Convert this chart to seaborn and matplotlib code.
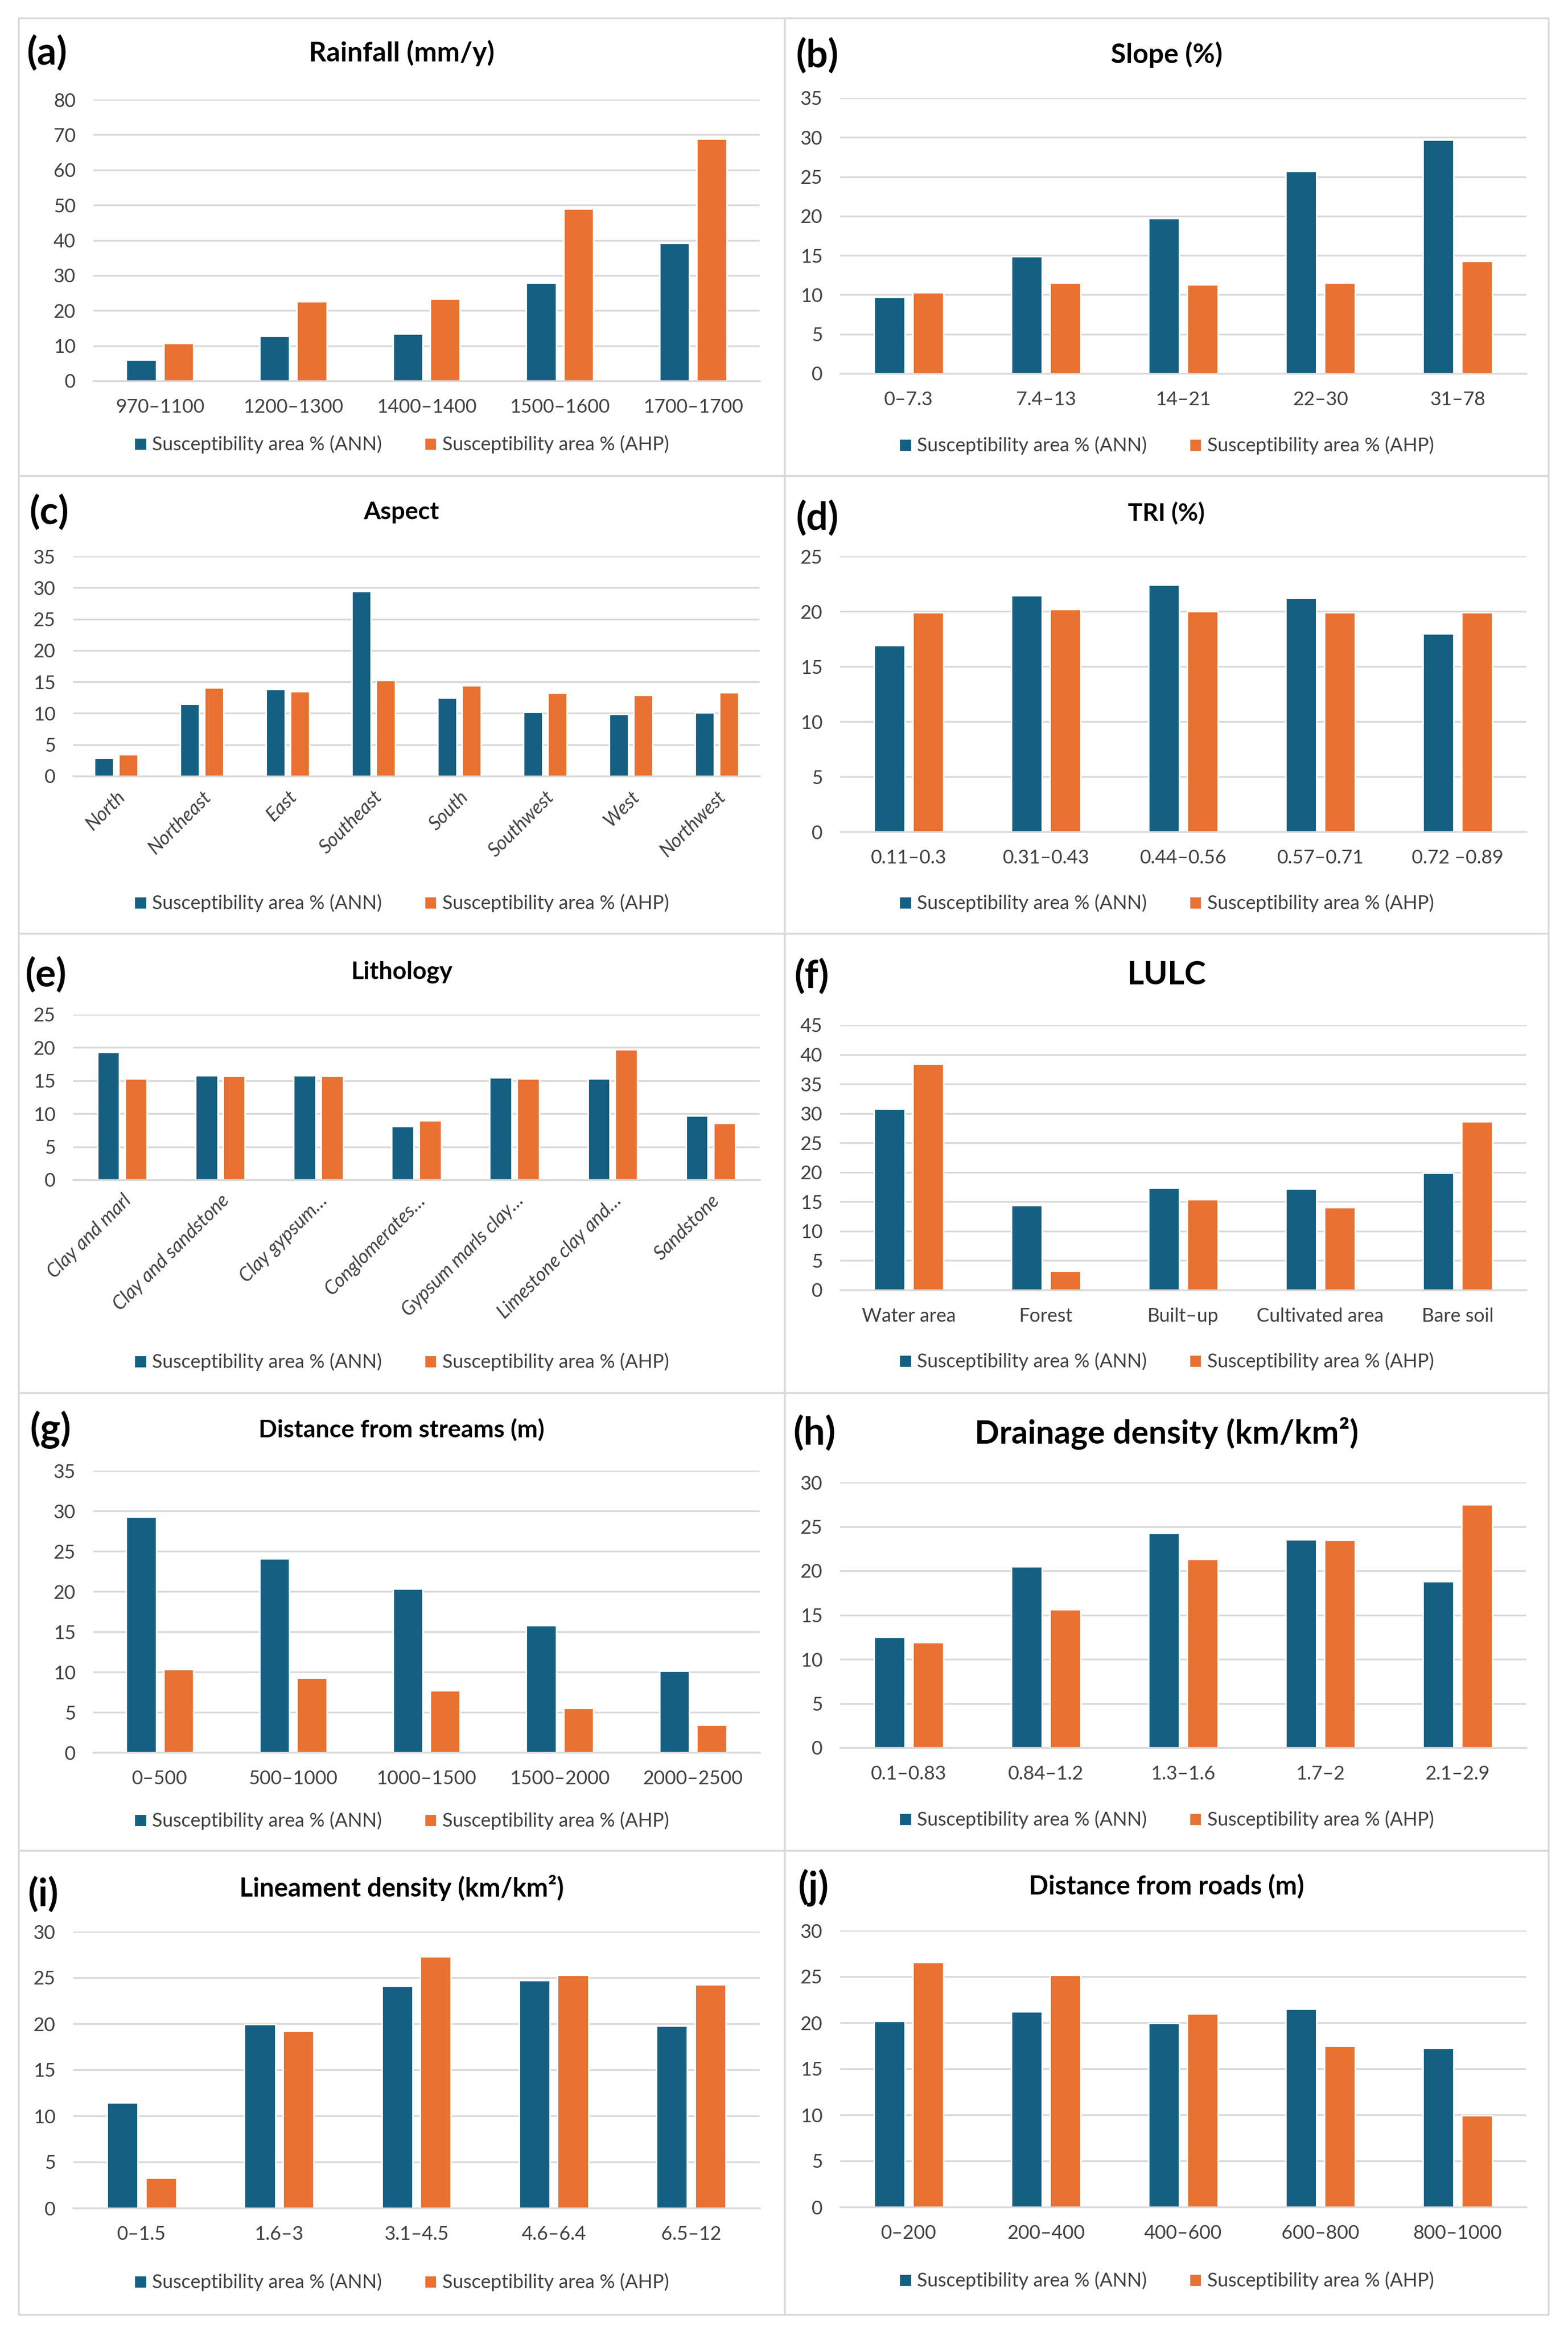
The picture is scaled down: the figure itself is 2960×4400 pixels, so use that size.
import matplotlib

matplotlib.use("Agg")
import matplotlib.pyplot as plt
import pandas as pd
import seaborn as sns
from matplotlib.patches import Rectangle

W, H, DPI = 2960, 4400, 200
BLUE, ORANGE = "#156082", "#E97132"
GRID = "#d9d9d9"
TXT = "#404040"
ANN = "Susceptibility area % (ANN)"
AHP = "Susceptibility area % (AHP)"

# ---- data ----
rain_cats = ["970–1100", "1200–1300", "1400–1400", "1500–1600", "1700–1700"]
rain_ann = [6.1, 12.8, 13.4, 27.8, 39.1]
rain_ahp = [10.7, 22.6, 23.3, 48.9, 68.9]

slope_cats = ["0–7.3", "7.4–13", "14–21", "22–30", "31–78"]
slope_ann = [9.7, 14.9, 19.7, 25.7, 29.7]
slope_ahp = [10.3, 11.5, 11.3, 11.5, 14.3]

aspect_cats = ["North", "Northeast", "East", "Southeast", "South", "Southwest", "West", "Northwest"]
aspect_ann = [2.85, 11.5, 13.8, 29.4, 12.5, 10.2, 9.9, 10.1]
aspect_ahp = [3.5, 14.1, 13.5, 15.3, 14.4, 13.2, 12.9, 13.3]

tri_cats = ["0.11–0.3", "0.31–0.43", "0.44–0.56", "0.57–0.71", "0.72 –0.89"]
tri_ann = [16.9, 21.45, 22.4, 21.2, 18.0]
tri_ahp = [19.9, 20.2, 20.0, 19.9, 19.9]

litho_cats = ["Clay and marl", "Clay and sandstone", "Clay gypsum…", "Conglomerates…",
              "Gypsum marls clay…", "Limestone clay and…", "Sandstone"]
litho_ann = [19.3, 15.8, 15.8, 8.1, 15.5, 15.3, 9.7]
litho_ahp = [15.3, 15.7, 15.7, 9.0, 15.3, 19.75, 8.6]

lulc_cats = ["Water area", "Forest", "Built–up", "Cultivated area", "Bare soil"]
lulc_ann = [30.8, 14.4, 17.4, 17.2, 19.9]
lulc_ahp = [38.4, 3.2, 15.4, 14.0, 28.6]

stream_cats = ["0–500", "500–1000", "1000–1500", "1500–2000", "2000–2500"]
stream_ann = [29.3, 24.05, 20.3, 15.8, 10.1]
stream_ahp = [10.3, 9.3, 7.7, 5.5, 3.4]

drain_cats = ["0.1–0.83", "0.84–1.2", "1.3–1.6", "1.7–2", "2.1–2.9"]
drain_ann = [12.5, 20.5, 24.25, 23.55, 18.8]
drain_ahp = [11.9, 15.6, 21.3, 23.5, 27.5]

linea_cats = ["0–1.5", "1.6–3", "3.1–4.5", "4.6–6.4", "6.5–12"]
linea_ann = [11.45, 19.95, 24.1, 24.7, 19.75]
linea_ahp = [3.3, 19.2, 27.3, 25.3, 24.25]

road_cats = ["0–200", "200–400", "400–600", "600–800", "800–1000"]
road_ann = [20.15, 21.2, 19.95, 21.5, 17.25]
road_ahp = [26.55, 25.2, 20.95, 17.5, 9.95]

panels = [
    ("(a)", "Rainfall (mm/y)", rain_cats, rain_ann, rain_ahp, 80, 10),
    ("(b)", "Slope (%)", slope_cats, slope_ann, slope_ahp, 35, 5),
    ("(c)", "Aspect", aspect_cats, aspect_ann, aspect_ahp, 35, 5),
    ("(d)", "TRI (%)", tri_cats, tri_ann, tri_ahp, 25, 5),
    ("(e)", "Lithology", litho_cats, litho_ann, litho_ahp, 25, 5),
    ("(f)", "LULC", lulc_cats, lulc_ann, lulc_ahp, 45, 5),
    ("(g)", "Distance from streams (m)", stream_cats, stream_ann, stream_ahp, 35, 5),
    ("(h)", "Drainage density (km/km²)", drain_cats, drain_ann, drain_ahp, 30, 5),
    ("(i)", "Lineament density (km/km²)", linea_cats, linea_ann, linea_ahp, 30, 5),
    ("(j)", "Distance from roads (m)", road_cats, road_ann, road_ahp, 30, 5),
]

# ---- layout in pixels: axes left, top(grid max), bottom(zero), title y, title size,
#      tag x, tag y, legend y, rotated labels
layout = {
    "(a)": (176, 188, 719, 100, 18.6, 50, 100, 839, False),
    "(b)": (1586, 185, 705, 103, 18.6, 1502, 105, 841, False),
    "(c)": (138, 1050, 1465, 967, 16.6, 55, 967, 1705, True),
    "(d)": (1586, 1050, 1570, 969, 16.6, 1502, 978, 1705, False),
    "(e)": (138, 1915, 2227, 1835, 16.6, 47, 1840, 2571, True),
    "(f)": (1586, 1935, 2435, 1840, 22, 1499, 1843, 2570, False),
    "(g)": (176, 2776, 3308, 2699, 16.6, 56, 2699, 3437, False),
    "(h)": (1586, 2798, 3299, 2705, 22, 1497, 2705, 3435, False),
    "(i)": (138, 3646, 4168, 3563, 17.6, 52, 3576, 4308, False),
    "(j)": (1586, 3644, 4166, 3561, 17.6, 1506, 3563, 4305, False),
}
row_edges = [34, 898, 1762, 2629, 3493, 4369]
col_edges = [35, 1481, 2923]
ax_right = [1434, 2881]

sns.set_theme(style="white")
plt.rcParams["font.family"] = ["Lato", "DejaVu Sans"]

fig = plt.figure(figsize=(W / DPI, H / DPI), dpi=DPI)
fig.patch.set_facecolor("white")

for i, (tag, title, cats, ann, ahp, ymax, step) in enumerate(panels):
    col, row = i % 2, i // 2
    left, top, bottom, ty, tsize, tagx, tagy, legy, rotated = layout[tag]
    right = ax_right[col]
    x0, x1 = col_edges[col], col_edges[col + 1]
    y0, y1 = row_edges[row], row_edges[row + 1]
    cx = (x0 + x1) / 2

    fig.add_artist(Rectangle((x0 / W, 1 - y1 / H), (x1 - x0) / W, (y1 - y0) / H,
                             transform=fig.transFigure, fill=False, ec=GRID, lw=1.2))

    ax = fig.add_axes([left / W, 1 - bottom / H, (right - left) / W, (bottom - top) / H])
    n = len(cats)
    frame = pd.DataFrame({
        "category": cats * 2,
        "model": [ANN] * n + [AHP] * n,
        "value": ann + ahp,
    })
    sns.barplot(data=frame, x="category", y="value", hue="model", hue_order=[ANN, AHP],
                palette=[BLUE, ORANGE], saturation=1, width=0.56, gap=0.2,
                order=cats, ax=ax)
    leg = ax.get_legend()
    handles = leg.legend_handles
    labels = [t.get_text() for t in leg.get_texts()]
    leg.remove()

    ax.set_xlim(-0.5, n - 0.5)
    ax.set_ylim(0, ymax)
    ax.set_yticks(range(0, ymax + 1, step))
    ax.yaxis.grid(True, color=GRID, lw=1.2)
    ax.set_axisbelow(True)
    for s in ["top", "right", "left"]:
        ax.spines[s].set_visible(False)
    ax.spines["bottom"].set_color(GRID)
    ax.spines["bottom"].set_linewidth(1.2)
    ax.set_xlabel("")
    ax.set_ylabel("")
    ax.tick_params(axis="y", length=0, pad=12, labelsize=13, labelcolor=TXT)
    ax.tick_params(axis="x", length=0, pad=12, labelsize=13, labelcolor=TXT)
    if rotated:
        ax.tick_params(axis="x", pad=8)
        for lab in ax.get_xticklabels():
            lab.set_rotation(45)
            lab.set_ha("right")
            lab.set_rotation_mode("anchor")
            lab.set_style("italic")
    if tag == "(a)":
        ax.set_xticks([k - 0.5 for k in range(n + 1)], minor=True)
        ax.tick_params(axis="x", which="minor", length=4.5, width=1.2, color=GRID, direction="out")

    fig.text(cx / W, 1 - ty / H, title, ha="center", va="center",
             fontsize=tsize, fontweight="bold", color="black")
    fig.text(tagx / W, 1 - tagy / H, tag, ha="left", va="center",
             fontsize=26, fontweight="bold", color="black")
    fig.legend(handles, labels, loc="center", bbox_to_anchor=(cx / W, 1 - legy / H),
               ncol=2, frameon=False, fontsize=13, labelcolor=TXT,
               handlelength=0.65, handleheight=0.65, handletextpad=0.3,
               columnspacing=2.2)

fig.savefig("out.png", dpi=DPI, facecolor="white")
